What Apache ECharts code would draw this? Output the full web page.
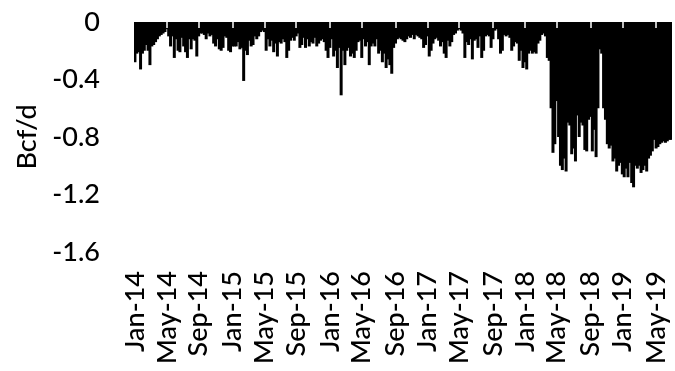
<!DOCTYPE html>
<html><head><meta charset="utf-8">
<script src="https://cdn.jsdelivr.net/npm/echarts@6/dist/echarts.min.js"></script>
<style>html,body{margin:0;padding:0;background:#fff}#c{width:675px;height:371px}</style>
</head><body><div id="c"></div>
<script>
// Weekly values (Bcf/d), weeks starting 2014-01-01
const startYear = 2014;
const w2014 = [-0.28,-0.22,-0.21,-0.33,-0.22,-0.2,-0.16,-0.2,-0.3,-0.17,-0.16,-0.14,-0.12,-0.1,-0.09,-0.08,-0.07,-0.05,
 -0.1,-0.17,-0.1,-0.25,-0.12,-0.2,-0.21,-0.11,-0.17,-0.21,-0.25,-0.12,-0.19,-0.12,-0.13,-0.24,-0.1,-0.08,
 -0.08,-0.09,-0.12,-0.08,-0.1,-0.09,-0.15,-0.17,-0.12,-0.19,-0.2,-0.18,-0.1,-0.11,-0.2,-0.21,-0.17];
const w2015 = [-0.17,-0.17,-0.14,-0.19,-0.18,-0.41,-0.2,-0.23,-0.13,-0.17,-0.16,-0.1,-0.12,-0.1,-0.07,-0.06,-0.07,-0.2,
 -0.12,-0.17,-0.13,-0.21,-0.15,-0.24,-0.14,-0.15,-0.12,-0.14,-0.25,-0.2,-0.13,-0.11,-0.13,-0.1,-0.08,-0.18,-0.16,
 -0.11,-0.18,-0.12,-0.17,-0.14,-0.15,-0.11,-0.17,-0.15,-0.13,-0.12,-0.14,-0.2,-0.25,-0.18];
const w2016 = [-0.12,-0.24,-0.2,-0.32,-0.18,-0.51,-0.2,-0.3,-0.2,-0.18,-0.24,-0.22,-0.25,-0.2,-0.14,-0.13,-0.25,-0.12,
 -0.17,-0.14,-0.3,-0.17,-0.15,-0.17,-0.12,-0.22,-0.2,-0.28,-0.22,-0.32,-0.26,-0.3,-0.36,-0.18,-0.15,-0.12,-0.11,
 -0.12,-0.13,-0.14,-0.12,-0.1,-0.11,-0.09,-0.12,-0.09,-0.1,-0.11,-0.12,-0.18,-0.16,-0.1];
const w2017 = [-0.24,-0.2,-0.15,-0.12,-0.11,-0.13,-0.17,-0.14,-0.22,-0.25,-0.13,-0.17,-0.14,-0.09,-0.08,-0.06,-0.05,
 -0.06,-0.08,-0.25,-0.14,-0.16,-0.12,-0.26,-0.13,-0.12,-0.18,-0.1,-0.25,-0.2,-0.1,-0.09,-0.1,-0.18,-0.12,-0.06,
 -0.05,-0.12,-0.22,-0.2,-0.09,-0.1,-0.09,-0.11,-0.2,-0.17,-0.14,-0.15,-0.27,-0.2,-0.32,-0.28];
const w2018 = [-0.33,-0.22,-0.2,-0.22,-0.21,-0.22,-0.15,-0.13,-0.09,-0.08,-0.1,-0.25,-0.27,-0.6,-0.91,-0.85,-0.55,
 -0.8,-1.0,-1.03,-0.95,-1.04,-0.7,-0.72,-0.92,-0.88,-0.97,-0.65,-0.8,-0.7,-0.72,-0.89,-0.9,-0.68,-0.66,-0.9,
 -0.75,-0.94,-0.6,-0.19,-0.22,-0.6,-0.68,-0.85,-0.88,-0.86,-0.97,-0.95,-1.04,-1.0,-0.98,-1.06];
const w2019 = [-1.08,-1.02,-1.08,-0.98,-1.12,-1.15,-1.0,-1.02,-1.0,-1.05,-1.03,-1.0,-1.04,-0.95,-0.93,-0.9,-0.82,
 -0.88,-0.87,-0.85,-0.84,-0.83,-0.84,-0.83,-0.82,-0.82];
const yTicks = [0, -0.4, -0.8, -1.2, -1.6];
const labelMonths = [0, 4, 8]; // Jan, May, Sep
const monthNames = ['Jan','Feb','Mar','Apr','May','Jun','Jul','Aug','Sep','Oct','Nov','Dec'];

const values = [].concat(w2014, w2015, w2016, w2017, w2018, w2019);
const DAY = 86400000;
const t0 = Date.UTC(startYear, 0, 1);
const cats = [], labels = [];
for (let i = 0; i < values.length; i++) {
  const t = t0 + i * 7 * DAY;
  cats.push(new Date(t).toISOString().slice(0, 10));
  let lab = '';
  for (let k = 0; k < 7; k++) {
    const d = new Date(t + k * DAY);
    if (d.getUTCDate() === 1 && labelMonths.includes(d.getUTCMonth())) {
      lab = monthNames[d.getUTCMonth()] + '-' + String(d.getUTCFullYear()).slice(2);
    }
  }
  labels.push(lab);
}
const FONT = 'Lato';
const chart = echarts.init(document.getElementById('c'), null, {renderer: 'canvas'});
chart.setOption({
  animation: false,
  backgroundColor: '#fff',
  grid: {left: 134, right: 3, top: 22, bottom: 119, containLabel: false},
  xAxis: [{
    type: 'category', data: cats, position: 'bottom',
    axisLine: {show: false}, axisTick: {show: false}, splitLine: {show: false},
    axisLabel: {
      rotate: 90, margin: 19, color: '#000', fontFamily: FONT, fontSize: 27, fontWeight: 500,
      interval: (idx) => labels[idx] !== '',
      formatter: (v, idx) => labels[idx]
    }
  }, {
    type: 'category', data: cats, position: 'top', z: 10,
    axisLine: {show: false}, axisLabel: {show: false}, splitLine: {show: false},
    axisTick: {show: true, inside: true, length: 6, alignWithLabel: true,
      interval: (idx) => labels[idx] !== '' && idx > 0,
      lineStyle: {color: '#fff', width: 1.5}}
  }],
  yAxis: {
    type: 'value', min: yTicks[yTicks.length - 1], max: yTicks[0], interval: 0.4,
    name: 'Bcf/d', nameLocation: 'middle', nameGap: 93, nameRotate: 90,
    nameTextStyle: {color: '#000', fontFamily: FONT, fontSize: 27, fontWeight: 500},
    axisLine: {show: false}, axisTick: {show: false}, splitLine: {show: false},
    axisLabel: {margin: 34, color: '#000', fontFamily: FONT, fontSize: 27, fontWeight: 500,
      formatter: (v) => Math.abs(v) < 1e-9 ? '0' : v.toFixed(1)}
  },
  series: [{
    type: 'bar', data: values, xAxisIndex: 0, barWidth: 3,
    itemStyle: {color: '#000'}
  }]
});
</script></body></html>
